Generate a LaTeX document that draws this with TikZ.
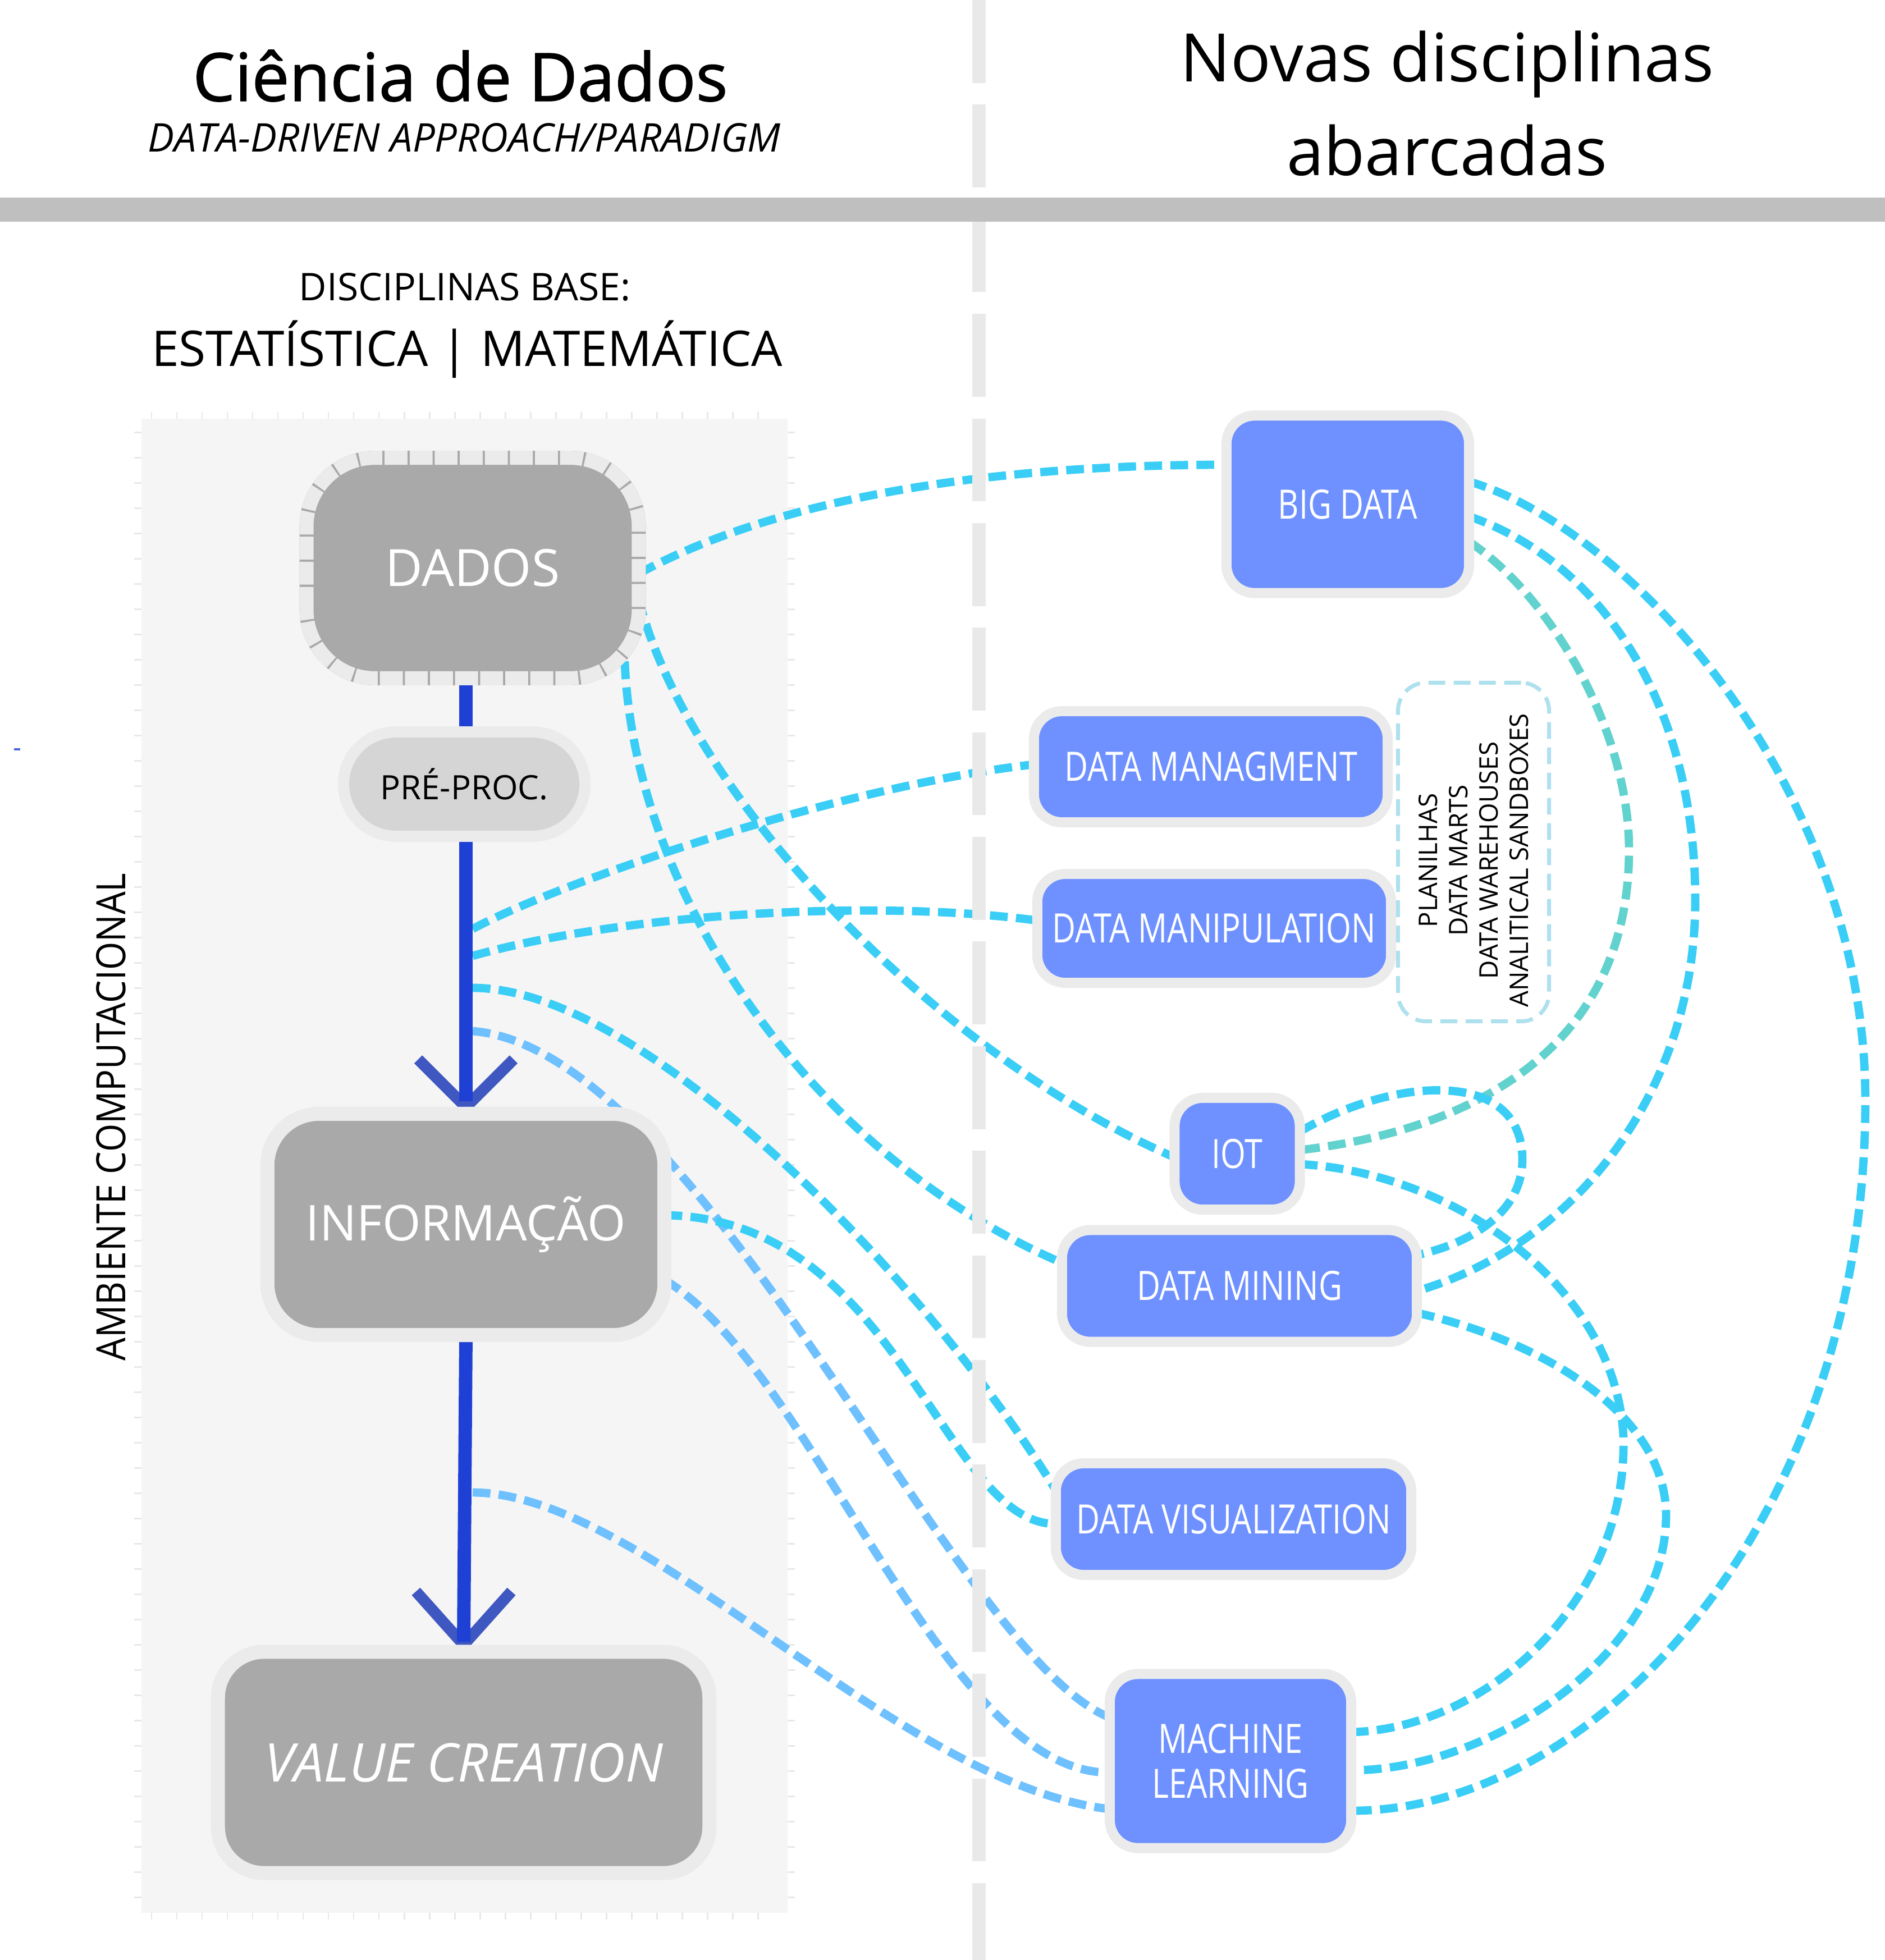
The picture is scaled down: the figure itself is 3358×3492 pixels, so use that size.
\documentclass[tikz,border=0pt]{standalone}
\usepackage{fontspec}
\setmainfont{Open Sans}
\newfontfamily\condf[FakeStretch=0.8]{Open Sans}
\newfontfamily\semicf[FakeStretch=0.9]{Open Sans}
\newfontfamily\titlef[FakeBold=1.2]{Open Sans}
\usetikzlibrary{shapes.misc,calc}
\pgfdeclarelayer{bg}
\pgfdeclarelayer{lines}
\pgfdeclarelayer{sep}
\pgfsetlayers{bg,lines,sep,main}
\definecolor{cyanl}{RGB}{58,206,246}
\definecolor{lblue}{RGB}{110,192,255}
\definecolor{teall}{RGB}{98,210,206}
\definecolor{nodeblue}{RGB}{110,145,255}
\definecolor{bandc}{RGB}{236,235,236}
\definecolor{graybox}{RGB}{169,169,169}
\definecolor{pregray}{RGB}{213,213,213}
\definecolor{trunkc}{RGB}{31,64,212}
\definecolor{arrowc}{RGB}{63,87,192}
\definecolor{panelc}{RGB}{245,245,245}
\definecolor{barc}{RGB}{191,191,191}
\definecolor{sepc}{RGB}{233,233,233}
\definecolor{boxdash}{RGB}{174,224,238}
\definecolor{tickc}{RGB}{232,232,232}
\definecolor{tickdark}{RGB}{168,168,168}
\begin{document}
\begin{tikzpicture}[x=0.01cm,y=-0.01cm,
  bluebox/.style={rectangle, rounded corners=0.5cm, fill=nodeblue, draw=bandc, line width=5.1pt, inner sep=0pt, outer sep=0pt, text=white, align=center, font={\condf\fontsize{20.5}{22.8}\selectfont}},
  graybx/.style={rectangle, fill=graybox, draw=bandc, line width=7.1pt, inner sep=0pt, outer sep=0pt, text=white},
  conn/.style={line width=4.2pt, dash pattern=on 9pt off 4.2pt},
  cy/.style={conn, draw=cyanl},
  lb/.style={conn, draw=lblue},
  tl/.style={conn, draw=teall},
  plain/.style={inner sep=0pt, text=black}]
\path[use as bounding box] (0,0) rectangle (3358,3492);
\begin{pgfonlayer}{bg}
\fill[white] (0,0) rectangle (3358,3492);
\fill[panelc] (252,746) rectangle (1403,3408);
\foreach \x in {270,315,...,1390} {
  \draw[tickc, line width=0.85pt] (\x,734) -- (\x,746);
  \draw[tickc, line width=0.85pt] (\x,3408) -- (\x,3420);
}
\foreach \y in {770,815,...,3400} {
  \draw[tickc, line width=0.85pt] (239,\y) -- (252,\y);
  \draw[tickc, line width=0.85pt] (1403,\y) -- (1416,\y);
}
\draw[trunkc!80, line width=0.9pt] (25,1335) -- (36,1335);
\end{pgfonlayer}

% titles
\node[plain, anchor=base, font={\titlef\fontsize{33.8}{38}\selectfont}] (title) at (820,180) {Ciência de Dados};
\node[plain, anchor=base, font={\itshape\fontsize{20}{24}\selectfont}] (subtitle) at (827,270) {DATA-DRIVEN APPROACH/PARADIGM};
\node[plain, anchor=base, font={\fontsize{33.9}{40}\selectfont}] (novas1) at (2578,145) {Novas disciplinas};
\node[plain, anchor=base, font={\fontsize{33.9}{40}\selectfont}] (novas2) at (2578,312) {abarcadas};
\node[plain, anchor=base, font={\fontsize{19.3}{22}\selectfont}] (discbase) at (828,535) {DISCIPLINAS BASE:};
\node[plain, anchor=base, font={\fontsize{24.9}{28}\selectfont}] (estmat) at (832,652) {ESTATÍSTICA | MATEMÁTICA};
\node[plain, anchor=base, rotate=90, font={\semicf\fontsize{20.4}{24}\selectfont}] (ambiente) at (223,1990) {AMBIENTE COMPUTACIONAL};

% left column nodes
\node[graybx, draw=tickdark, rounded corners=1.22cm, minimum width=5.915cm, minimum height=3.925cm, font={\fontsize{26}{30}\selectfont}] (dados) at (842,1012) {DADOS};
\draw[bandc, line width=7.1pt, dash pattern=on 11.6pt off 1.1pt, rounded corners=1.22cm] (dados.south west) rectangle (dados.north east);
\node[rounded rectangle, fill=pregray, draw=bandc, line width=5.7pt, inner sep=0pt, outer sep=0pt, minimum width=4.30cm, minimum height=1.855cm, text=black, font={\fontsize{17}{20}\selectfont}] (pre) at (827,1397) {PRÉ-PROC.};
\node[graybx, rounded corners=0.92cm, minimum width=7.07cm, minimum height=3.94cm, font={\fontsize{25}{30}\selectfont}] (info) at (830,2181.5) {INFORMAÇÃO};
\node[graybx, rounded corners=0.82cm, minimum width=8.75cm, minimum height=3.94cm, font={\itshape\fontsize{27}{30}\selectfont}] (value) at (826,3140) {VALUE CREATION};

% right column nodes
\node[bluebox, minimum width=4.32cm, minimum height=3.16cm] (big) at (2401,898.5) {BIG DATA};
\node[bluebox, minimum width=6.30cm, minimum height=1.98cm] (manag) at (2157,1366) {DATA MANAGMENT};
\node[bluebox, minimum width=6.30cm, minimum height=1.94cm] (manip) at (2163,1654) {DATA MANIPULATION};
\node[bluebox, minimum width=2.23cm, minimum height=1.99cm] (iot) at (2204,2055.5) {IOT};
\node[bluebox, minimum width=6.32cm, minimum height=1.99cm] (mining) at (2208,2291) {DATA MINING};
\node[bluebox, minimum width=6.33cm, minimum height=1.99cm] (vis) at (2197.5,2706.5) {DATA VISUALIZATION};
\node[bluebox, minimum width=4.30cm, minimum height=3.10cm] (ml) at (2192,3137.5) {MACHINE\\LEARNING};

\node[draw=boxdash, line width=2pt, dash pattern=on 8.5pt off 4.3pt, rounded corners=0.5cm, minimum width=2.69cm, minimum height=6.03cm, inner sep=0pt] (stores) at (2625,1518) {};
\node[plain, rotate=90, align=center, font={\fontsize{13}{15.4}\selectfont}] (storestext) at (2625,1533) {PLANILHAS\\DATA MARTS\\DATA WAREHOUSES\\ANALITICAL SANDBOXES};

% trunk points
\coordinate (t1) at (842,1655);
\coordinate (t2) at (842,1703);
\coordinate (t3) at (842,1760);
\coordinate (t4) at (842,1837);
\coordinate (t5) at (842,2659);
\coordinate (ap1) at ([yshift=0.12cm]info.north);
\coordinate (ap2) at ([yshift=0.125cm]value.north);

\begin{pgfonlayer}{sep}
\draw[sepc, line width=6.8pt, dash pattern=on 42pt off 11pt] (1744,0) -- (1744,3492);
\fill[barc] (0,352) rectangle (3358,395);
\draw[arrowc, line width=5.7pt] ([shift={(-85,-85)}]ap1) -- (ap1) -- ([shift={(85,-85)}]ap1);
\draw[arrowc, line width=5.7pt] ([shift={(-85,-95)}]ap2) -- (ap2) -- ([shift={(85,-95)}]ap2);
\draw[trunkc, line width=6.8pt] (dados.south -| info.north) -- (pre.north -| info.north);
\draw[trunkc, line width=6.8pt] (pre.south -| info.north) -- ([yshift=0.1cm]ap1);
\draw[trunkc, line width=6.8pt] (info.south) -- ([yshift=0.05cm]ap2);
\end{pgfonlayer}

\begin{pgfonlayer}{lines}
% from DADOS
\draw[cy] ([yshift=-0.10cm]dados.east) .. controls (1380,890) and (1750,828) .. ([yshift=0.705cm]big.west);
\draw[cy] ([yshift=-0.55cm]dados.east) .. controls (1220,1400) and (1650,1870) .. ([yshift=-0.065cm]iot.west);
\draw[cy] ([xshift=-0.25cm,yshift=0.3cm]dados.south east) .. controls (1130,1600) and (1450,2060) .. ([yshift=0.41cm]mining.west);
% from trunk
\draw[cy] (t1) .. controls (1000,1570) and (1500,1400) .. ([yshift=0.04cm]manag.west);
\draw[cy] (t2) .. controls (1100,1630) and (1550,1600) .. ([yshift=0.14cm]manip.west);
\draw[cy] (t3) .. controls (1150,1760) and (1650,2280) .. ([yshift=0.515cm]vis.west);
\draw[lb] (t4) .. controls (1250,1870) and (1700,2950) .. ([yshift=0.775cm]ml.west);
\draw[lb] (t5) .. controls (1150,2660) and (1600,3180) .. ([yshift=-0.855cm]ml.west);
% from INFORMACAO
\draw[cy] ([yshift=0.165cm]info.east) .. controls (1600,2170) and (1680,2715) .. ([yshift=-0.085cm]vis.west);
\draw[lb] ([yshift=-0.985cm]info.east) .. controls (1450,2440) and (1680,3160) .. ([yshift=-0.205cm]ml.west);
% right side
\draw[cy] ([yshift=0.405cm]big.east) .. controls (2900,940) and (3323,1400) .. (3323,1961) .. controls (3323,2700) and (2850,3226) .. ([yshift=-0.885cm]ml.east);
\draw[cy] ([yshift=-0.215cm]big.east) .. controls (2850,1000) and (3020,1250) .. (3020,1604) .. controls (3020,1950) and (2800,2220) .. ([yshift=-0.09cm]mining.east);
\draw[tl] ([yshift=-0.665cm]big.east) .. controls (2760,1060) and (2902,1300) .. (2902,1514) .. controls (2902,1850) and (2650,2010) .. ([yshift=0.065cm]iot.east);
\draw[cy] ([yshift=0.395cm]iot.east) .. controls (2480,1920) and (2712,1900) .. (2712,2066) .. controls (2712,2160) and (2620,2215) .. ([yshift=0.55cm]mining.east);
\draw[cy] ([yshift=-0.185cm]iot.east) .. controls (2600,2090) and (2880,2300) .. (2892,2560) .. controls (2900,2850) and (2650,3080) .. ([yshift=0.515cm]ml.east);
\draw[cy] ([yshift=-0.48cm]mining.east) .. controls (2750,2390) and (2968,2520) .. (2968,2700) .. controls (2968,2950) and (2650,3154) .. ([yshift=-0.165cm]ml.east);
\end{pgfonlayer}
\end{tikzpicture}
\end{document}
